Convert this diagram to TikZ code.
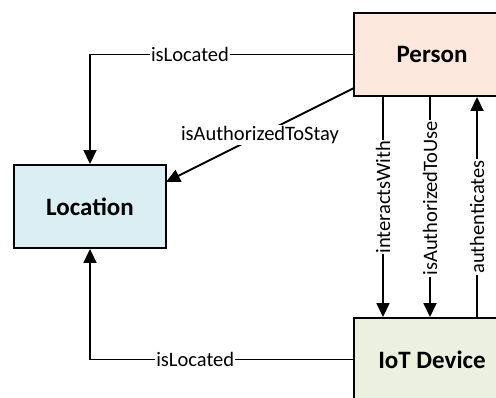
\documentclass[tikz,border=0pt]{standalone}
\usepackage{fontspec}
\setmainfont{Carlito}
\usetikzlibrary{arrows.meta}
\definecolor{personfill}{HTML}{FCE8DC}
\definecolor{locfill}{HTML}{DBEEF4}
\definecolor{iotfill}{HTML}{EBF1DE}
\tikzset{
  x=1pt,y=1pt,
  entity/.style={draw=black, line width=1.9pt, minimum width=156pt, minimum height=83pt, inner sep=0pt,
    font=\fontsize{25}{28}\selectfont\bfseries},
  conn/.style={line width=1.8pt, -{Triangle[length=14pt,width=13pt]}},
  elabel/.style={fill=white, inner sep=1pt, font=\fontsize{20.5}{22}\selectfont}
}
\begin{document}
\begin{tikzpicture}
\useasboundingbox (0,0) rectangle (496,-398);
\begin{scope}
\clip (0,0) rectangle (496,-398);
\node[entity, fill=personfill] (person) at (432,-54.5) {Person};
\node[entity, fill=locfill, minimum width=152pt] (loc) at (90,-206.5) {Location};
\node[entity, fill=iotfill] (iot) at (432,-359.5) {IoT Device};

\coordinate (pA) at (354,-88);
\coordinate (lA) at (166,-182);
\draw[conn] (person.west) -| node[elabel, pos=0.31] {isLocated} (loc.north);
\draw[conn] (pA) -- node[elabel, pos=0.5] {isAuthorizedToStay} (lA);

\draw[conn] (person.south -| 383,0) -- node[elabel, rotate=90, pos=0.455] {interactsWith} (iot.north -| 383,0);
\draw[conn] (person.south -| 430,0) -- node[elabel, rotate=90, pos=0.46] {isAuthorizedToUse} (iot.north -| 430,0);
\draw[conn] (iot.north -| 477,0) -- node[elabel, rotate=90, pos=0.455] {authenticates} (person.south -| 477,0);

\draw[conn] (iot.west) -| node[elabel, pos=0.30] {isLocated} (loc.south);
\end{scope}
\end{tikzpicture}
\end{document}
